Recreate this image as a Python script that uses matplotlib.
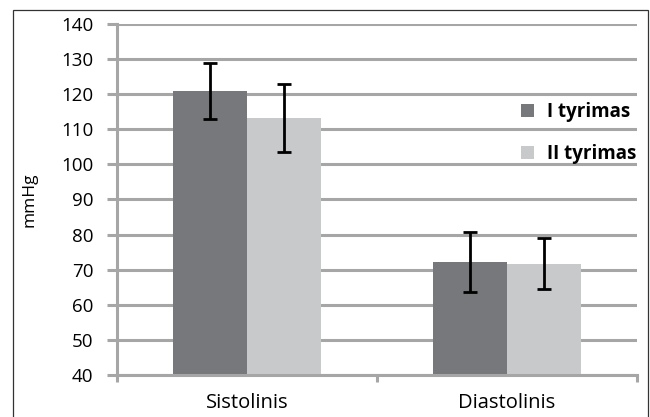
import numpy as np
import matplotlib.pyplot as plt
from matplotlib.patches import Rectangle

plt.rcParams['font.family'] = ['Open Sans', 'DejaVu Sans']

# data
categories = ['Sistolinis', 'Diastolinis']
series = ['I tyrimas', 'II tyrimas']
values_1 = [121, 72.2]
errors_1 = [8, 8.5]
values_2 = [113.2, 71.7]
errors_2 = [9.6, 7.2]
yticks = [40, 50, 60, 70, 80, 90, 100, 110, 120, 130, 140]

dark = '#77787b'
light = '#c8c9cb'
grid = '#a6a6a6'

fig = plt.figure(figsize=(6.5, 4.17), dpi=100)
ax = fig.add_axes([117/650, 42/417, 520/650, 351/417])

# outer frame of the chart area
fig.patches.append(Rectangle((13/650, -0.05), 635/650, 1.05 - 10/417,
                             transform=fig.transFigure, fill=False,
                             edgecolor='#333333', linewidth=0.9))

x = np.arange(len(categories))
w = 0.285
ax.bar(x - w/2, values_1, w, color=dark, zorder=2, label=series[0])
ax.bar(x + w/2, values_2, w, color=light, zorder=2, label=series[1])
ax.errorbar(x - w/2, values_1, yerr=errors_1, fmt='none', ecolor='black',
            elinewidth=2, capsize=5, capthick=2, zorder=3)
ax.errorbar(x + w/2, values_2, yerr=errors_2, fmt='none', ecolor='black',
            elinewidth=2, capsize=5, capthick=2, zorder=3)

ax.set_xlim(-0.5, 1.5)
ax.set_ylim(40, 140)
ax.set_yticks(yticks)
ax.set_xticks([-0.5, 0.5, 1.5])
ax.set_xticklabels([])
ax.set_xticks(x, minor=True)
ax.set_xticklabels(categories, minor=True, fontsize=14.5)
ax.tick_params(axis='x', which='minor', length=0, pad=13)
ax.tick_params(axis='x', which='major', length=5, width=2.2, color=grid, direction='out')
ax.tick_params(axis='y', length=7, width=2.2, color=grid, labelsize=13.5, pad=10)

ax.yaxis.grid(True, color=grid, linewidth=2.2, zorder=0)
ax.set_axisbelow(True)
for s in ['top', 'right']:
    ax.spines[s].set_visible(False)
for s in ['left', 'bottom']:
    ax.spines[s].set_color(grid)
    ax.spines[s].set_linewidth(2.2)

ax.set_ylabel('mmHg', fontsize=12.5)
ax.yaxis.set_label_coords(-0.152, 0.5)

leg = ax.legend(loc='upper left', bbox_to_anchor=(0.745, 0.825), frameon=False,
                handlelength=0.66, handleheight=0.66, handletextpad=0.7,
                labelspacing=1.15, prop={'weight': 'bold', 'size': 13.5})

fig.savefig('out.png', dpi=100)
